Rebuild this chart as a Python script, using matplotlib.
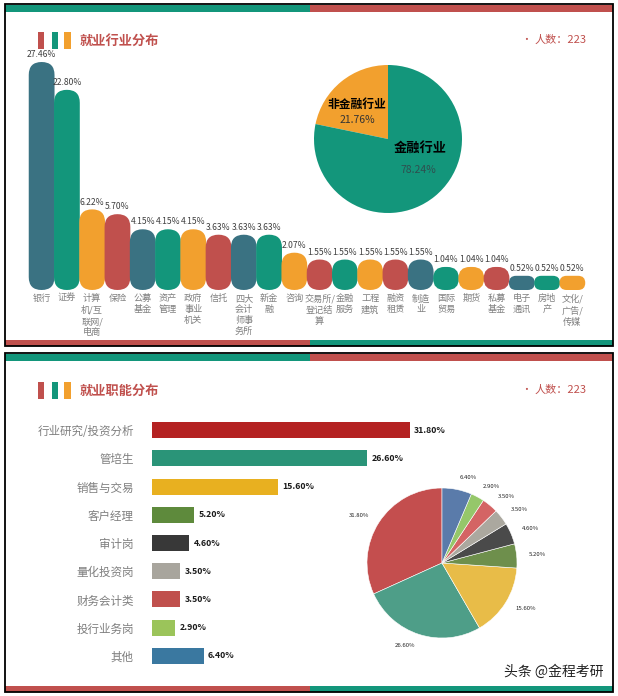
import numpy as np
import matplotlib.pyplot as plt
from matplotlib.patches import Rectangle, FancyBboxPatch

plt.rcParams['font.family'] = ['Noto Sans CJK SC', 'DejaVu Sans']

#CONFIG=======
W, H = 618, 696
DPI = 100
red = '#C0504D'
teal = '#13967B'
blue = '#3A7282'
orange = '#F2A02E'
#=============

# data: industry distribution
industries = ['银行', '证券', '计算\n机/互\n联网/\n电商', '保险', '公募\n基金', '资产\n管理',
              '政府\n事业\n机关', '信托', '四大\n会计\n师事\n务所', '新金\n融', '咨询',
              '交易所/\n登记结\n算', '金融\n服务', '工程\n建筑', '融资\n租赁', '制造\n业',
              '国际\n贸易', '期货', '私募\n基金', '电子\n通讯', '房地\n产', '文化/\n广告/\n传媒']
industry_pct = [27.46, 22.80, 6.22, 5.70, 4.15, 4.15, 4.15, 3.63, 3.63, 3.63, 2.07,
                1.55, 1.55, 1.55, 1.55, 1.55, 1.04, 1.04, 1.04, 0.52, 0.52, 0.52]
industry_colors = [blue, teal, orange, red, blue, teal, orange, red, blue, teal, orange,
                   red, teal, orange, red, blue, teal, orange, red, blue, teal, orange]

sector_labels = ['非金融行业', '金融行业']
sector_pct = [21.76, 78.24]

# data: job function distribution
functions = ['行业研究/投资分析', '管培生', '销售与交易', '客户经理', '审计岗',
             '量化投资岗', '财务会计类', '投行业务岗', '其他']
function_pct = [31.80, 26.60, 15.60, 5.20, 4.60, 3.50, 3.50, 2.90, 6.40]
bar_colors = ['#B42222', '#2A9478', '#E8B020', '#5E8A3C', '#383838',
              '#A8A59D', '#C0504D', '#9BC45A', '#3A78A0']
pie_colors = ['#C44E4E', '#4E9E88', '#E8BC48', '#6E8F4C', '#4A4A4A',
              '#ABA89F', '#D46464', '#95C76A', '#5A7BAA']
headcount = 223


def box(left, top, right, bottom):
    return [left / W, 1 - bottom / H, (right - left) / W, (bottom - top) / H]


def frect(fig, left, top, right, bottom, **kw):
    fig.add_artist(Rectangle((left / W, 1 - bottom / H), (right - left) / W, (bottom - top) / H,
                             transform=fig.transFigure, **kw))


def ftext(fig, x, y, s, **kw):
    fig.text(x / W, 1 - y / H, s, **kw)


fig = plt.figure(figsize=(W / DPI, H / DPI), dpi=DPI)
fig.patch.set_facecolor('white')

# panels, stripes and headers
for top, bottom in [(4, 346), (353, 692)]:
    frect(fig, 5, top + 1, 310, top + 8, color=teal, lw=0)
    frect(fig, 310, top + 1, 613, top + 8, color=red, lw=0)
    frect(fig, 5, bottom - 6, 310, bottom, color=red, lw=0)
    frect(fig, 310, bottom - 6, 613, bottom, color=teal, lw=0)
    frect(fig, 5, top, 613, bottom, fill=False, ec='black', lw=1.3)

for y0, title in [(32, '就业行业分布'), (382, '就业职能分布')]:
    frect(fig, 38, y0, 44, y0 + 17, color=red, lw=0)
    frect(fig, 52, y0, 58, y0 + 17, color=teal, lw=0)
    frect(fig, 64, y0, 71, y0 + 17, color=orange, lw=0)
    ftext(fig, 80, y0 + 9, title, fontsize=9.5, fontweight='bold', color=red, va='center')
    ftext(fig, 521, y0 + 8, '•', fontsize=7, color=red, va='center')
    ftext(fig, 535, y0 + 8, f'人数：{headcount}', fontsize=8, color=red, va='center')

# top: capsule bar chart
ax1 = fig.add_axes(box(29, 62, 585, 290))
ax1.set_facecolor('none')
ax1.set_yscale('function', functions=(lambda v: np.power(np.clip(v, 0, None), 0.7),
                                      lambda v: np.power(np.clip(v, 0, None), 1 / 0.7)))
ax1.set_xlim(-0.5, len(industries) - 0.5)
ax1.set_ylim(0, max(industry_pct))
for s in ax1.spines.values():
    s.set_visible(False)
ax1.set_yticks([])
ax1.set_xticks(range(len(industries)), labels=industries)
ax1.tick_params(axis='x', length=0, pad=3, labelsize=6.6, labelcolor='#808080')
for lbl in ax1.get_xticklabels():
    lbl.set_linespacing(1.3)

aw, ah = 556, 228
m = aw / ah
to_ax = ax1.transAxes.inverted()
for i, (v, c) in enumerate(zip(industry_pct, industry_colors)):
    x0, y0 = to_ax.transform(ax1.transData.transform((i - 0.51, 0)))
    x1, y1 = to_ax.transform(ax1.transData.transform((i + 0.51, v)))
    r = min((x1 - x0) / 2, (y1 - y0) / m / 2)
    ax1.add_patch(FancyBboxPatch((x0, y0), x1 - x0, y1 - y0,
                                 boxstyle=f'round,pad=0,rounding_size={r}',
                                 mutation_aspect=m, transform=ax1.transAxes,
                                 fc=c, ec='none', clip_on=False))
    ax1.annotate(f'{v:.2f}%', (i, v), xytext=(0, 2), textcoords='offset points',
                 ha='center', va='bottom', fontsize=6.2, color='#404040',
                 annotation_clip=False)

# top: pie
r1 = 74
axp = fig.add_axes(box(388 - 1.25 * r1, 139 - 1.25 * r1, 388 + 1.25 * r1, 139 + 1.25 * r1))
axp.pie(sector_pct, colors=[orange, teal], startangle=90, counterclock=True)
axp.set_xlim(-1.25, 1.25)
axp.set_ylim(-1.25, 1.25)
axp.text(-0.42, 0.47, sector_labels[0], ha='center', va='center', fontsize=8.5, fontweight='bold')
axp.text(-0.42, 0.26, f'{sector_pct[0]:.2f}%', ha='center', va='center', fontsize=7.5, color='#333333')
axp.text(0.43, -0.12, sector_labels[1], ha='center', va='center', fontsize=9.5, fontweight='bold')
axp.text(0.41, -0.42, f'{sector_pct[1]:.2f}%', ha='center', va='center', fontsize=7.5, color='#2F4F4F')

# bottom: horizontal bars
ax2 = fig.add_axes(box(152, 416, 476, 670))
ax2.set_facecolor('none')
ax2.barh(range(len(functions)), function_pct, height=0.57, color=bar_colors)
ax2.set_xlim(0, 40)
ax2.set_ylim(len(functions) - 0.5, -0.5)
for s in ax2.spines.values():
    s.set_visible(False)
ax2.set_xticks([])
ax2.set_yticks(range(len(functions)), labels=functions)
ax2.tick_params(axis='y', length=0, pad=13, labelsize=8.3, labelcolor='#7F7F7F')
for i, v in enumerate(function_pct):
    ax2.annotate(f'{v:.2f}%', (v, i), xytext=(3, 0), textcoords='offset points',
                 ha='left', va='center', fontsize=6.3, fontweight='bold', color='#1A1A1A')

# bottom: pie
r2 = 75
axq = fig.add_axes(box(442 - 1.25 * r2, 563 - 1.25 * r2, 442 + 1.25 * r2, 563 + 1.25 * r2))
axq.pie(function_pct, colors=pie_colors, startangle=90, counterclock=True,
        labels=[f'{v:.2f}%' for v in function_pct], labeldistance=1.16,
        textprops=dict(fontsize=4.3, color='#222222'),
        wedgeprops=dict(edgecolor='white', linewidth=0.4))
axq.set_xlim(-1.25, 1.25)
axq.set_ylim(-1.25, 1.25)

ftext(fig, 603, 672, '头条 @金程考研', ha='right', va='center', fontsize=10, color='#222222')

fig.savefig('out.png', dpi=DPI, facecolor='white')
